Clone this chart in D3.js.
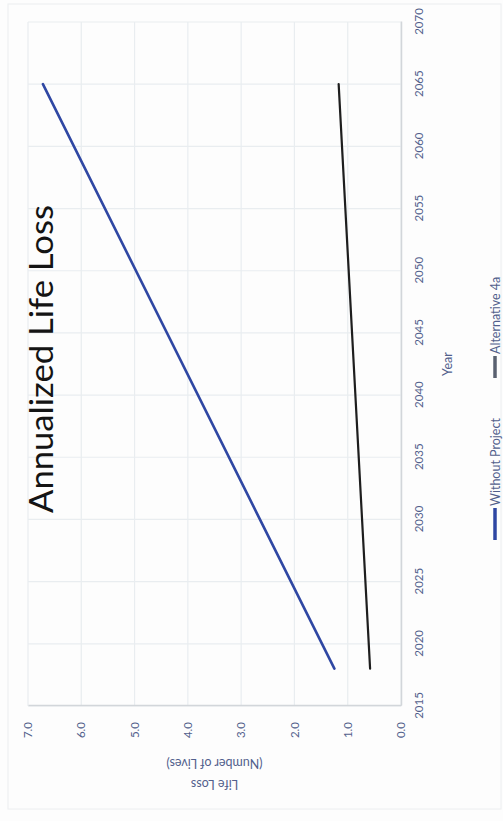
<!DOCTYPE html>
<html>
<head>
<meta charset="utf-8">
<script src="https://cdn.jsdelivr.net/npm/d3@7"></script>
<style>
  html, body { margin: 0; padding: 0; background: #fdfdfd; }
  svg { display: block; }
  text { font-family: Lato, "Open Sans", "DejaVu Sans", sans-serif; }
</style>
</head>
<body>
<script>
// Annualized life loss over time, two scenarios
const years = [2018, 2065];
const withoutProject = [1.25, 6.72];
const alternative4a = [0.58, 1.17];

const yearTicks = [2015, 2020, 2025, 2030, 2035, 2040, 2045, 2050, 2055, 2060, 2065, 2070];
const valueTicks = [0, 1, 2, 3, 4, 5, 6, 7];

const seriesNames = ["Without Project", "Alternative 4a"];
const seriesColors = ["#2f47a3", "#1e1e1e"];

const W = 503, H = 821;

const svg = d3.select("body").append("svg")
  .attr("width", W).attr("height", H);

svg.append("rect").attr("width", W).attr("height", H).attr("fill", "#fdfdfd");

// The chart is laid out landscape and turned a quarter turn on the page.
const g = svg.append("g").attr("transform", `translate(0,${H}) rotate(-90)`);

// faint outer frame of the chart area
g.append("rect")
  .attr("x", 12).attr("y", 8).attr("width", H - 16).attr("height", W - 10)
  .attr("fill", "none").attr("stroke", "#eceef0").attr("stroke-width", 1);

const x = d3.scaleLinear().domain([2015, 2070]).range([115, 799]);
const y = d3.scaleLinear().domain([0, 7]).range([401, 28]);

// gridlines
g.append("g").selectAll("line").data(yearTicks).join("line")
  .attr("x1", d => x(d)).attr("x2", d => x(d))
  .attr("y1", y(7)).attr("y2", y(0))
  .attr("stroke", "#e9edf0").attr("stroke-width", 1.2);
g.append("g").selectAll("line").data(valueTicks).join("line")
  .attr("x1", x(2015)).attr("x2", x(2070))
  .attr("y1", d => y(d)).attr("y2", d => y(d))
  .attr("stroke", "#e9edf0").attr("stroke-width", 1.2);

// axes
const tickColor = "#52608c";
const xAxis = g.append("g").attr("transform", `translate(0,${y(0)})`)
  .call(d3.axisBottom(x).tickValues(yearTicks).tickFormat(d3.format("d")).tickSize(0).tickPadding(14));
xAxis.select(".domain").attr("stroke", "#d2d6da").attr("stroke-width", 1.5);
xAxis.selectAll("text").attr("fill", tickColor).attr("font-size", 11.5);

const yAxis = g.append("g").attr("transform", `translate(${x(2015)},0)`)
  .call(d3.axisLeft(y).tickValues(valueTicks).tickFormat(d3.format(".1f")).tickSize(0).tickPadding(16));
yAxis.select(".domain").attr("stroke", "#d2d6da").attr("stroke-width", 1.5);
yAxis.selectAll("text").attr("fill", tickColor).attr("font-size", 11.5);

// axis titles
g.append("text")
  .attr("x", (x(2015) + x(2070)) / 2).attr("y", 452)
  .attr("text-anchor", "middle").attr("fill", tickColor).attr("font-size", 12.5)
  .text("Year");

const yTitle = g.append("text")
  .attr("transform", `translate(${41},${(y(0) + y(7)) / 2}) rotate(-90)`)
  .attr("text-anchor", "middle").attr("fill", tickColor).attr("font-size", 12.5);
yTitle.append("tspan").attr("x", 0).attr("dy", 0).text("Life Loss");
yTitle.append("tspan").attr("x", 0).attr("dy", 21).text("(Number of Lives)");

// series lines
const line = d3.line().x(d => x(d[0])).y(d => y(d[1]));
const series = [withoutProject, alternative4a];
series.forEach((vals, i) => {
  g.append("path")
    .datum(years.map((yr, j) => [yr, vals[j]]))
    .attr("d", line)
    .attr("fill", "none")
    .attr("stroke", seriesColors[i])
    .attr("stroke-width", i === 0 ? 2.6 : 2.2)
    .attr("stroke-linecap", "round");
});

// title
g.append("text")
  .attr("x", 462).attr("y", 53)
  .attr("text-anchor", "middle").attr("fill", "#141414")
  .attr("font-size", 32)
  .attr("textLength", 308).attr("lengthAdjust", "spacingAndGlyphs")
  .text("Annualized Life Loss");

// legend
const legendItems = [
  { name: seriesNames[0], color: seriesColors[0], x0: 281, sw: 32 },
  { name: seriesNames[1], color: "#5a6170", x0: 443, sw: 22 }
];
const legend = g.append("g").attr("transform", "translate(0,495)");
legendItems.forEach(it => {
  legend.append("line")
    .attr("x1", it.x0).attr("x2", it.x0 + it.sw)
    .attr("y1", 0).attr("y2", 0)
    .attr("stroke", it.color).attr("stroke-width", 3.5);
  legend.append("text")
    .attr("x", it.x0 + it.sw + 2).attr("y", 4.5)
    .attr("fill", tickColor).attr("font-size", 12.5)
    .text(it.name);
});
</script>
</body>
</html>
